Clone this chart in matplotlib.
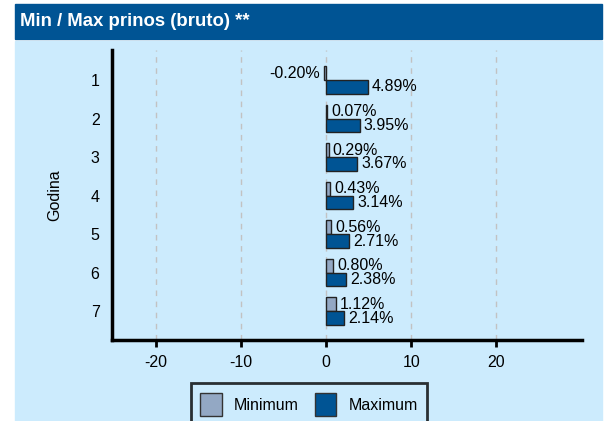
import matplotlib.pyplot as plt
import numpy as np
from matplotlib.patches import Rectangle, Patch

plt.rcParams['font.family'] = ['Liberation Sans', 'DejaVu Sans']

# data
years = [1, 2, 3, 4, 5, 6, 7]
min_vals = [-0.20, 0.07, 0.29, 0.43, 0.56, 0.80, 1.12]
max_vals = [4.89, 3.95, 3.67, 3.14, 2.71, 2.38, 2.14]
x_ticks = [-20, -10, 0, 10, 20]

bg = '#CCEBFD'
dark_blue = '#005494'
light = '#93A8C4'
fs = 11.5

W, H = 609, 421
fig = plt.figure(figsize=(W / 100, H / 100), dpi=100)
fig.patch.set_facecolor('white')

# title band and panel behind everything
fig.patches.append(Rectangle((15 / W, (H - 39) / H), 587 / W, 35 / H,
                             transform=fig.transFigure, color=dark_blue, zorder=-10))
fig.patches.append(Rectangle((15 / W, 0), 587 / W, (H - 41) / H,
                             transform=fig.transFigure, color=bg, zorder=-10))
fig.text(20 / W, (H - 22) / H, 'Min / Max prinos (bruto) **', color='white',
         fontsize=13.4, fontweight='bold', va='center', ha='left')

ax = fig.add_axes([112 / W, (H - 340) / H, 470 / W, 290 / H])
ax.set_facecolor('none')

pos = np.array(years)
h = 0.36
ax.barh(pos - h / 2, min_vals, height=h, color=light, edgecolor='#222222', lw=1, zorder=3)
ax.barh(pos + h / 2, max_vals, height=h, color=dark_blue, edgecolor='#222222', lw=1, zorder=3)

for p, v in zip(pos, min_vals):
    if v < 0:
        ax.annotate(f'{v:.2f}%', (v, p - h / 2), xytext=(-3, 0), textcoords='offset points',
                    ha='right', va='center', fontsize=fs)
    else:
        ax.annotate(f'{v:.2f}%', (v, p - h / 2), xytext=(3, 0), textcoords='offset points',
                    ha='left', va='center', fontsize=fs)
for p, v in zip(pos, max_vals):
    ax.annotate(f'{v:.2f}%', (v, p + h / 2), xytext=(3, 0), textcoords='offset points',
                ha='left', va='center', fontsize=fs)

ax.set_xlim(-25.2, 30.1)
ax.set_ylim(7.75, 0.22)
ax.set_xticks(x_ticks)
ax.set_xticklabels([str(t) for t in x_ticks])
ax.set_yticks(years)
ax.set_yticklabels([str(y) for y in years])
ax.tick_params(axis='x', length=5, width=2, labelsize=fs, pad=6)
ax.tick_params(axis='y', length=0, labelsize=fs, pad=9)
ax.set_ylabel('Godina', fontsize=fs, labelpad=20)

ax.grid(axis='x', linestyle=(0, (4, 4)), color='#C2C2C2', lw=1, zorder=0)
ax.set_axisbelow(True)
for s in ['top', 'right']:
    ax.spines[s].set_visible(False)
for s in ['left', 'bottom']:
    ax.spines[s].set_linewidth(2.5)

handles = [Patch(facecolor=light, edgecolor='#333333', label='Minimum'),
           Patch(facecolor=dark_blue, edgecolor='#333333', label='Maximum')]
leg = fig.legend(handles=handles, loc='upper center', bbox_to_anchor=(309 / W, (H - 383) / H),
                 ncol=2, fontsize=fs, frameon=True, fancybox=False, handlelength=1.35,
                 handleheight=1.9, handletextpad=0.75, columnspacing=1.0, borderpad=0.6,
                 borderaxespad=0)
leg.get_frame().set_edgecolor('black')
leg.get_frame().set_linewidth(2)
leg.get_frame().set_facecolor(bg)

fig.savefig('out.png', dpi=100)
